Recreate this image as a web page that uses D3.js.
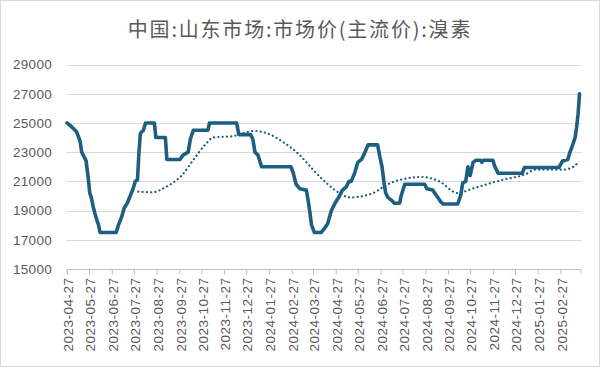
<!DOCTYPE html>
<html><head><meta charset="utf-8">
<script src="https://cdn.jsdelivr.net/npm/d3@7"></script>
<style>body{margin:0;background:#fff}svg{display:block}</style>
</head><body>
<svg id="c" width="600" height="367"></svg>
<script>
const title = "中国:山东市场:市场价(主流价):溴素";
const yTicks = [15000,17000,19000,21000,23000,25000,27000,29000];
const xTickLabels = ["2023-04-27","2023-05-27","2023-06-27","2023-07-27","2023-08-27","2023-09-27","2023-10-27","2023-11-27","2023-12-27","2024-01-27","2024-02-27","2024-03-27","2024-04-27","2024-05-27","2024-06-27","2024-07-27","2024-08-27","2024-09-27","2024-10-27","2024-11-27","2024-12-27","2025-01-27","2025-02-27"];
const priceDates = ["2023-04-27","2023-05-02","2023-05-06","2023-05-10","2023-05-13","2023-05-15","2023-05-17","2023-05-19","2023-05-23","2023-05-26","2023-05-28","2023-05-30","2023-06-02","2023-06-04","2023-06-07","2023-06-09","2023-06-11","2023-07-03","2023-07-06","2023-07-10","2023-07-14","2023-07-18","2023-07-22","2023-07-26","2023-07-29","2023-08-01","2023-08-03","2023-08-05","2023-08-09","2023-08-12","2023-08-24","2023-08-26","2023-09-08","2023-09-10","2023-09-28","2023-10-02","2023-10-09","2023-10-12","2023-10-16","2023-11-05","2023-11-07","2023-12-14","2023-12-17","2024-01-02","2024-01-05","2024-01-08","2024-01-12","2024-01-17","2024-02-26","2024-02-29","2024-03-04","2024-03-09","2024-03-18","2024-03-21","2024-03-23","2024-03-25","2024-03-29","2024-04-07","2024-04-12","2024-04-16","2024-04-21","2024-04-26","2024-05-02","2024-05-06","2024-05-11","2024-05-15","2024-05-18","2024-05-23","2024-05-27","2024-06-01","2024-06-05","2024-06-10","2024-06-23","2024-06-26","2024-06-29","2024-07-02","2024-07-04","2024-07-07","2024-07-12","2024-07-16","2024-07-23","2024-07-25","2024-07-30","2024-08-26","2024-08-29","2024-09-06","2024-09-13","2024-09-17","2024-09-20","2024-10-10","2024-10-14","2024-10-17","2024-10-21","2024-10-24","2024-10-27","2024-10-31","2024-11-04","2024-11-10","2024-11-12","2024-11-14","2024-11-27","2024-11-29","2024-12-04","2025-01-06","2025-01-09","2025-02-25","2025-03-02","2025-03-09","2025-03-12","2025-03-15","2025-03-19","2025-03-21","2025-03-23","2025-03-25"];
const priceValues = [25000,24800,24600,24400,24000,23700,23000,22800,22400,21200,20200,19900,19200,18800,18300,18000,17500,17500,18000,18500,19200,19500,20000,20500,21000,21100,23000,24300,24500,25000,25000,24000,24000,22500,22500,22800,23000,23900,24500,24500,25000,25000,24200,24200,23900,23000,22800,22000,22000,21600,20800,20500,20400,19500,18800,18000,17500,17500,17800,18100,19000,19500,20000,20400,20600,21000,21000,21600,22300,22500,22900,23500,23500,22700,22000,20800,20200,19900,19700,19500,19500,20000,20800,20800,20500,20400,19900,19600,19450,19450,20000,20900,21000,22000,21400,22300,22450,22450,22300,22450,22450,22100,21550,21550,21950,21950,22400,22500,23000,23400,24000,24700,25600,27000];
const avgDates = ["2023-08-02","2023-08-21","2023-09-08","2023-09-30","2023-10-18","2023-11-01","2023-11-12","2023-12-09","2024-01-08","2024-01-24","2024-02-15","2024-03-09","2024-03-27","2024-04-14","2024-05-02","2024-05-16","2024-05-29","2024-06-17","2024-07-05","2024-07-23","2024-08-23","2024-09-15","2024-10-10","2024-10-30","2024-11-22","2024-12-10","2025-01-11","2025-01-24","2025-03-02","2025-03-15","2025-03-24"];
const avgValues = [20300,20250,20600,21400,22600,23500,24000,24100,24450,24300,23700,22800,21800,20900,20200,19900,19950,20200,20750,21100,21300,21000,20200,20500,20850,21100,21500,21800,21800,21950,22350];

const parse = d3.timeParse("%Y-%m-%d");
const svg = d3.select("#c");
const color = "#1d5f80";
const grid = "#d9d9d9";
const textColor = "#595959";

svg.append("rect").attr("x",0.5).attr("y",0.5).attr("width",599).attr("height",366)
  .attr("fill","#fff").attr("stroke","#d9d9d9");

svg.append("text").attr("x",300).attr("y",37).attr("text-anchor","middle")
  .attr("font-family","'Noto Sans CJK SC', sans-serif").attr("font-size",20)
  .attr("letter-spacing","1.8px").attr("fill",textColor).text(title);

const x = d3.scaleTime().domain([parse("2023-04-27"), parse("2025-03-27")]).range([67, 581]);
const y = d3.scaleLinear().domain([15000, 29000]).range([269, 64.5]);

// gridlines
svg.append("g").selectAll("line").data(yTicks.slice(1)).join("line")
  .attr("x1",67).attr("x2",581).attr("y1",d=>Math.round(y(d))+0.5).attr("y2",d=>Math.round(y(d))+0.5)
  .attr("stroke",grid).attr("stroke-width",1);

// y axis labels
const yAxis = d3.axisLeft(y).tickValues(yTicks).tickSize(0).tickPadding(0).tickFormat(d3.format("d"));
const gy = svg.append("g").attr("transform","translate(52,0)").call(yAxis);
gy.select(".domain").remove();
gy.selectAll("text").attr("font-family","'Liberation Sans', Arial, sans-serif").attr("font-size",13.5)
  .attr("fill",textColor).attr("letter-spacing","0.3px");

// x axis
const xAxis = d3.axisBottom(x).tickValues(xTickLabels.map(parse)).tickSize(5).tickSizeOuter(0).tickFormat(d3.timeFormat("%Y-%m-%d"));
const gx = svg.append("g").attr("transform","translate(0,269.5)").call(xAxis);
gx.select(".domain").attr("stroke","#bfbfbf").attr("d","M67,4V0H581V4");
gx.selectAll(".tick line").attr("stroke","#bfbfbf");
gx.selectAll("text").attr("font-family","'Liberation Sans', Arial, sans-serif").attr("font-size",13.5)
  .attr("letter-spacing","0.5px").attr("fill",textColor)
  .attr("transform","rotate(-90)").attr("text-anchor","end").attr("x",-8).attr("y",1).attr("dy","0.35em");

// lines
const line = d3.line().x(d=>x(d[0])).y(d=>y(d[1]));
const priceData = priceDates.map((d,i)=>[parse(d), priceValues[i]]);
const avgData = avgDates.map((d,i)=>[parse(d), avgValues[i]]);
const smooth = d3.line().x(d=>x(d[0])).y(d=>y(d[1])).curve(d3.curveMonotoneX);

svg.append("path").datum(avgData).attr("d",smooth).attr("fill","none")
  .attr("stroke",color).attr("stroke-width",2.2).attr("stroke-dasharray","0.1,4.2").attr("stroke-linecap","round");
svg.append("path").datum(priceData).attr("d",line).attr("fill","none")
  .attr("stroke",color).attr("stroke-width",3.6).attr("stroke-linejoin","round").attr("stroke-linecap","round");
</script>
</body></html>
